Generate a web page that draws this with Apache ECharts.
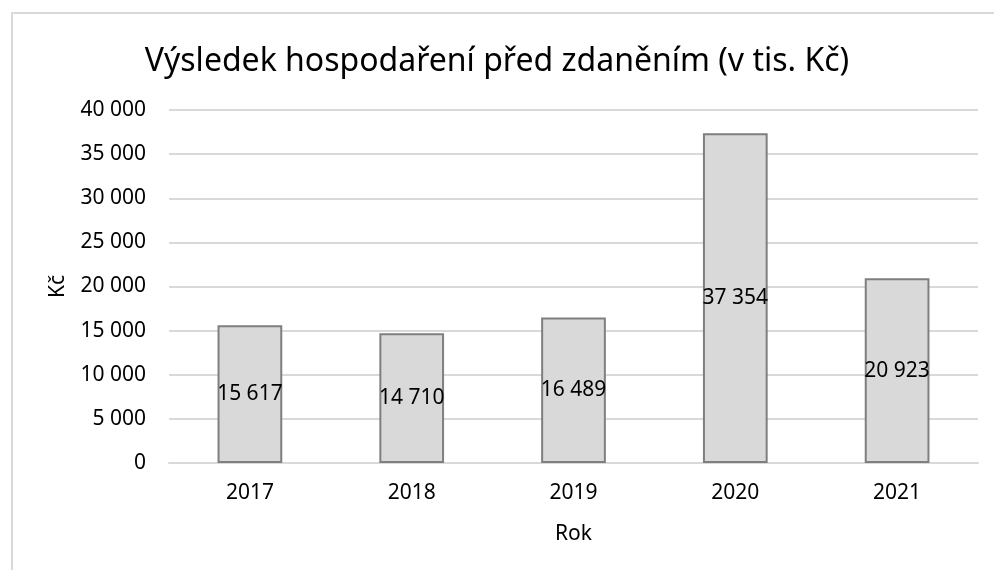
<!DOCTYPE html>
<html>
<head>
<meta charset="utf-8">
<script src="https://cdn.jsdelivr.net/npm/echarts@6/dist/echarts.min.js"></script>
<style>html,body{margin:0;padding:0;background:#fff}#c{width:994px;height:570px}</style>
</head>
<body>
<div id="c"></div>
<script>
const categories = ['2017', '2018', '2019', '2020', '2021'];
const values = [15617, 14710, 16489, 37354, 20923];
const titleText = 'Výsledek hospodaření před zdaněním (v tis. Kč)';
const xName = 'Rok';
const yName = 'Kč';

const fmt = v => String(v).replace(/\B(?=(\d{3})+(?!\d))/g, ' ');
const FONT = 'Noto Sans';

const chart = echarts.init(document.getElementById('c'));
chart.setOption({
  animation: false,
  backgroundColor: '#fff',
  graphic: [{
    type: 'rect', left: 9.5, top: 10.5, z: -1,
    shape: { width: 1000, height: 600 },
    style: { fill: 'none', stroke: '#d9d9d9', lineWidth: 2 }
  }],
  title: {
    text: titleText, left: 'center', top: 41,
    textStyle: { fontFamily: FONT, fontSize: 32, fontWeight: 'normal', color: '#000' }
  },
  grid: { left: 169, right: 16, top: 110, bottom: 107, containLabel: false },
  xAxis: {
    type: 'category', data: categories,
    name: xName, nameLocation: 'middle', nameGap: 61,
    nameTextStyle: { fontFamily: FONT, fontSize: 21, color: '#000' },
    axisLine: { show: true, lineStyle: { color: '#d9d9d9', width: 2 } },
    axisTick: { show: false },
    axisLabel: { fontFamily: FONT, fontSize: 21, color: '#000', margin: 20 }
  },
  yAxis: {
    type: 'value', min: 0, max: 40000, interval: 5000,
    name: yName, nameLocation: 'middle', nameGap: 100, nameRotate: 90,
    nameTextStyle: { fontFamily: FONT, fontSize: 21, color: '#000' },
    axisLine: { show: false }, axisTick: { show: false },
    axisLabel: { fontFamily: FONT, fontSize: 21, color: '#000', margin: 23, formatter: fmt },
    splitLine: { lineStyle: { color: '#d9d9d9', width: 2 } }
  },
  series: [{
    type: 'bar', data: values, barWidth: '40%',
    itemStyle: { color: '#d9d9d9', borderColor: '#7f7f7f', borderWidth: 2 },
    label: {
      show: true, position: 'inside', formatter: p => fmt(p.value),
      fontFamily: FONT, fontSize: 21, color: '#000'
    }
  }]
});
</script>
</body>
</html>
